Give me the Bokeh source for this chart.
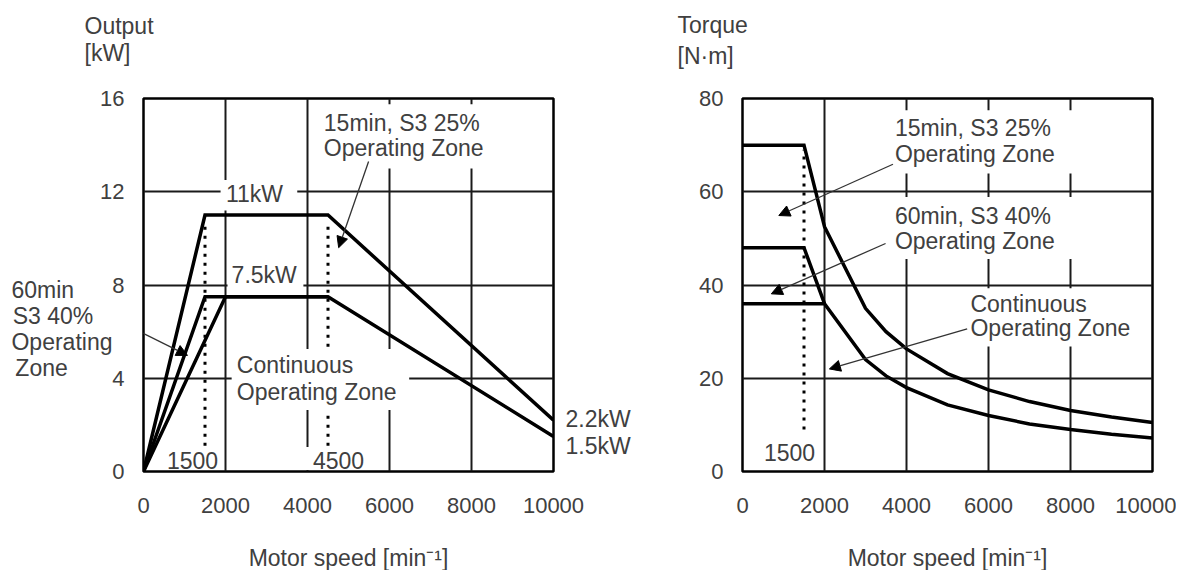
from bokeh.plotting import figure
from bokeh.models import Label, Arrow, NormalHead, FixedTicker, Range1d, LinearAxis
from bokeh.layouts import row, column
from bokeh.embed import file_html
from bokeh.resources import INLINE

# ---------------- data ----------------
speed_ticks = [0, 2000, 4000, 6000, 8000, 10000]
output_ticks = [0, 4, 8, 12, 16]
torque_ticks = [0, 20, 40, 60, 80]

# Output chart [kW]
out_s3_25_speed = [0, 1500, 4500, 10000]
out_s3_25_kw = [0, 11, 11, 2.2]
out_s3_40_speed = [0, 1500, 4500, 10000]
out_s3_40_kw = [0, 7.5, 7.5, 1.5]
out_cont_speed = [0, 2000, 4500]
out_cont_kw = [0, 7.5, 7.5]
end_labels = ["2.2kW", "1.5kW"]
end_label_pos = [2.25, 1.1]
# left-margin note (lines padded with no-break spaces so they line up on the left)
zone_40_lines = ["60min", "S3 40%", "Operating", "Zone"]
zone_40_pad = [6, 3, 0, 7]
zone_40_pos = 6.11

# Torque chart [N·m]
tq_s3_25_speed = [0, 1500, 2000, 3000, 3500, 4000, 5000, 6000, 7000, 8000, 9000, 10000]
tq_s3_25_nm = [70, 70, 52.5, 35, 30, 26.3, 21, 17.5, 15, 13.1, 11.7, 10.5]
tq_s3_40_speed = [0, 1500, 2000]
tq_s3_40_nm = [48, 48, 36]
tq_cont_speed = [0, 2000, 3000, 3500, 4000, 5000, 6000, 7000, 8000, 9000, 10000]
tq_cont_nm = [36, 36, 24, 20.5, 18, 14.3, 12, 10.2, 9, 8, 7.2]

marker_speeds_out = [1500, 4500]
marker_speed_tq = 1500

FONT = "Liberation Sans"
TXT = "#404040"
FS = "23px"
X_LABEL = "Motor speed [min\u207b\u00b9]"


def base(y_max, y_ticks, left_border, right_border):
    p = figure(frame_width=410, frame_height=373, output_backend="svg",
               toolbar_location=None, x_range=Range1d(0, 10000),
               y_range=Range1d(0, y_max), min_border_left=left_border,
               min_border_right=right_border, min_border_top=28,
               min_border_bottom=97)
    p.xaxis.ticker = FixedTicker(ticks=speed_ticks)
    p.yaxis.ticker = FixedTicker(ticks=y_ticks)
    p.xgrid.ticker = FixedTicker(ticks=speed_ticks)
    p.ygrid.ticker = FixedTicker(ticks=y_ticks)
    for g in (p.xgrid, p.ygrid):
        g.grid_line_color = "#1a1a1a"
        g.grid_line_width = 2
        g.grid_line_alpha = 1
    for ax in (p.xaxis, p.yaxis):
        ax.axis_line_color = None
        ax.major_tick_line_color = None
        ax.minor_tick_line_color = None
        ax.major_label_text_font = FONT
        ax.major_label_text_font_size = "22px"
        ax.major_label_text_color = TXT
    p.xaxis.major_label_standoff = 20
    p.yaxis.major_label_standoff = 13
    p.xaxis.axis_label = X_LABEL
    p.xaxis.axis_label_text_font = FONT
    p.xaxis.axis_label_text_font_size = FS
    p.xaxis.axis_label_text_font_style = "normal"
    p.xaxis.axis_label_text_color = TXT
    p.xaxis.axis_label_standoff = 29
    p.outline_line_color = "black"
    p.outline_line_width = 2.5
    p.outline_line_alpha = 1
    p.background_fill_color = "white"
    p.border_fill_color = "white"
    return p


def lab(p, x, y, t, align="left"):
    p.add_layout(Label(x=x, y=y, text=t, text_font=FONT, text_font_size=FS,
                       text_color=TXT, text_align=align, text_baseline="middle"))


def arr(p, x0, y0, x1, y1):
    p.add_layout(Arrow(x_start=x0, y_start=y0, x_end=x1, y_end=y1,
                       line_color="#333333", line_width=1.3,
                       end=NormalHead(size=11, fill_color="black",
                                      line_color="black", line_width=1)))


def mask(p, l, r, b, t):
    p.quad(left=[l], right=[r], bottom=[b], top=[t], fill_color="white",
           line_color=None)


def text_axis(ticks, labels, standoff, line_height=1.2):
    return LinearAxis(ticker=FixedTicker(ticks=ticks),
                      major_label_overrides=dict(zip(ticks, labels)),
                      axis_line_color=None, major_tick_line_color=None,
                      minor_tick_line_color=None, major_tick_out=0,
                      major_tick_in=0, major_label_standoff=standoff,
                      major_label_text_font=FONT, major_label_text_font_size=FS,
                      major_label_text_color=TXT,
                      major_label_text_line_height=line_height)


# ---------------- header strip (axis titles) ----------------
pt = figure(width=1176, height=70, output_backend="svg", toolbar_location=None,
            x_range=Range1d(0, 1176), y_range=Range1d(70, 0),
            x_axis_type=None, y_axis_type=None, min_border=0)
pt.outline_line_color = None
pt.grid.visible = False
lab(pt, 84, 25, "Output")
lab(pt, 84, 52, "[kW]")
lab(pt, 677, 24, "Torque")
lab(pt, 677, 55, "[N\u00b7m]")

# ---------------- left: output ----------------
p1 = base(16, output_ticks, 143, 97)
for s in marker_speeds_out:
    p1.line([s, s], [1.1, 10.6], line_color="black", line_width=3,
            line_dash="3 6")
mask(p1, 1880, 3750, 11.2, 12.5)
mask(p1, 2050, 3900, 7.85, 9.0)
mask(p1, 4400, 8350, 13.0, 15.75)
mask(p1, 2150, 6480, 2.64, 5.26)
mask(p1, 600, 1800, 0.06, 1.0)
mask(p1, 3950, 5500, 0.06, 1.05)
for xs, ys in ((out_s3_25_speed, out_s3_25_kw), (out_s3_40_speed, out_s3_40_kw),
               (out_cont_speed, out_cont_kw)):
    p1.line(xs, ys, line_color="black", line_width=3.5, line_join="miter")

p1.add_layout(text_axis(end_label_pos, end_labels, 12), "right")
zone_text = "\n".join(t + "\u00a0" * n for t, n in zip(zone_40_lines, zone_40_pad))
p1.add_layout(text_axis([zone_40_pos], [zone_text], -15, 1.0), "left")

lab(p1, 2707, 11.92, "11kW", "center")
lab(p1, 2944, 8.41, "7.5kW", "center")
lab(p1, 4398, 14.97, "15min, S3 25%")
lab(p1, 4398, 13.86, "Operating Zone")
lab(p1, 2276, 4.55, "Continuous")
lab(p1, 2276, 3.40, "Operating Zone")
lab(p1, 1195, 0.47, "1500", "center")
lab(p1, 4756, 0.47, "4500", "center")
arr(p1, 5490, 13.3, 4760, 9.6)
arr(p1, -390, 6.26, 1073, 4.98)

# ---------------- right: torque ----------------
p2 = base(80, torque_ticks, 92, 24)
p2.line([marker_speed_tq, marker_speed_tq], [9, 69], line_color="black",
        line_width=3, line_dash="3 6")
mask(p2, 3700, 8150, 63.9, 77.5)
mask(p2, 3700, 8150, 45.6, 58.9)
mask(p2, 5450, 9650, 26.8, 39.3)
for xs, ys in ((tq_s3_25_speed, tq_s3_25_nm), (tq_s3_40_speed, tq_s3_40_nm),
               (tq_cont_speed, tq_cont_nm)):
    p2.line(xs, ys, line_color="black", line_width=3.5, line_join="miter")

lab(p2, 3717, 73.6, "15min, S3 25%")
lab(p2, 3717, 68.0, "Operating Zone")
lab(p2, 3717, 54.9, "60min, S3 40%")
lab(p2, 3717, 49.5, "Operating Zone")
lab(p2, 5560, 36.0, "Continuous")
lab(p2, 5560, 30.7, "Operating Zone")
lab(p2, 1146, 4.07, "1500", "center")
arr(p2, 3670, 65.9, 886, 54.9)
arr(p2, 3489, 48.9, 703, 38.1)
arr(p2, 5480, 30.6, 2119, 22.0)

layout = column(pt, row(p1, p2))
open("out.html", "w").write(file_html(layout, INLINE))
